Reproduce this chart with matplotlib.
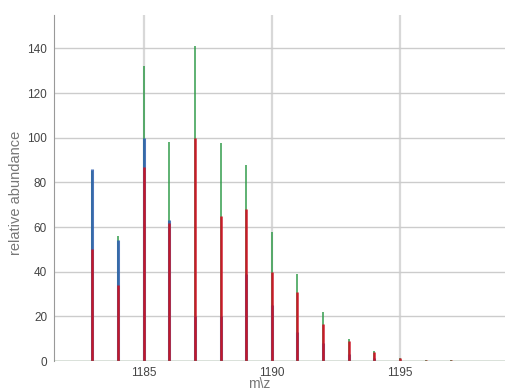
import numpy as np
import matplotlib.pyplot as plt

plt.rcParams["font.family"] = ["Liberation Sans", "DejaVu Sans"]

# isotope peak positions (m/z) and abundances per series
mz = [1183.0, 1184.0, 1185.0, 1186.0, 1187.0, 1188.0, 1189.0, 1190.0,
      1191.0, 1192.0, 1193.0, 1194.0, 1195.0, 1196.0, 1197.0, 1198.0]
green = [85, 56, 132, 98, 141, 97.5, 88, 58, 39, 22, 10, 4.5, 1.5, 0.6, 0.3, 0.1]
blue = [86, 54, 100, 63, 20, 20, 39, 25, 13, 8, 3, 1.5, 0.5, 0.2, 0.1, 0.05]
red = [50, 34, 87, 62, 100, 65, 68, 40, 31, 16.5, 9, 4, 1.5, 0.5, 0.3, 0.1]

fig = plt.figure(figsize=(5.05, 3.92), dpi=100)
ax = fig.add_axes([0.107, 0.079, 0.893, 0.883])

ax.vlines(mz, 0, green, colors="#2e9a48", linewidth=1.2, alpha=0.9, zorder=3)
ax.vlines(mz, 0, blue, colors="#2f5fb0", linewidth=2.2, alpha=0.85, zorder=4)
ax.vlines(mz, 0, red, colors="#cc1424", linewidth=1.8, alpha=0.95, zorder=5)
ax.axhline(0, color="#6f8f6f", linewidth=1.0, zorder=6)

ax.set_xlim(1181.5, 1199.1)
ax.set_ylim(0, 155)
ax.set_xticks([1185, 1190, 1195])
ax.set_yticks(np.arange(0, 141, 20))
ax.grid(True, axis="y", color="#cccccc", linewidth=1.0)
ax.grid(True, axis="x", color="#d8d8d8", linewidth=1.6)
ax.set_axisbelow(True)
ax.tick_params(length=0, labelsize=8.5, labelcolor="#444444")
ax.tick_params(axis="x", pad=4)
ax.tick_params(axis="y", pad=5)

for s in ["top", "right"]:
    ax.spines[s].set_visible(False)
ax.spines["left"].set_color("#999999")
ax.spines["bottom"].set_visible(False)

ax.set_xlabel("m\\z", fontsize=10, color="#777777")
ax.set_ylabel("relative abundance", fontsize=10.5, color="#777777")
ax.xaxis.set_label_coords(0.455, -0.045)
ax.yaxis.set_label_coords(-0.069, 0.485)

fig.savefig("out.png", dpi=100)
